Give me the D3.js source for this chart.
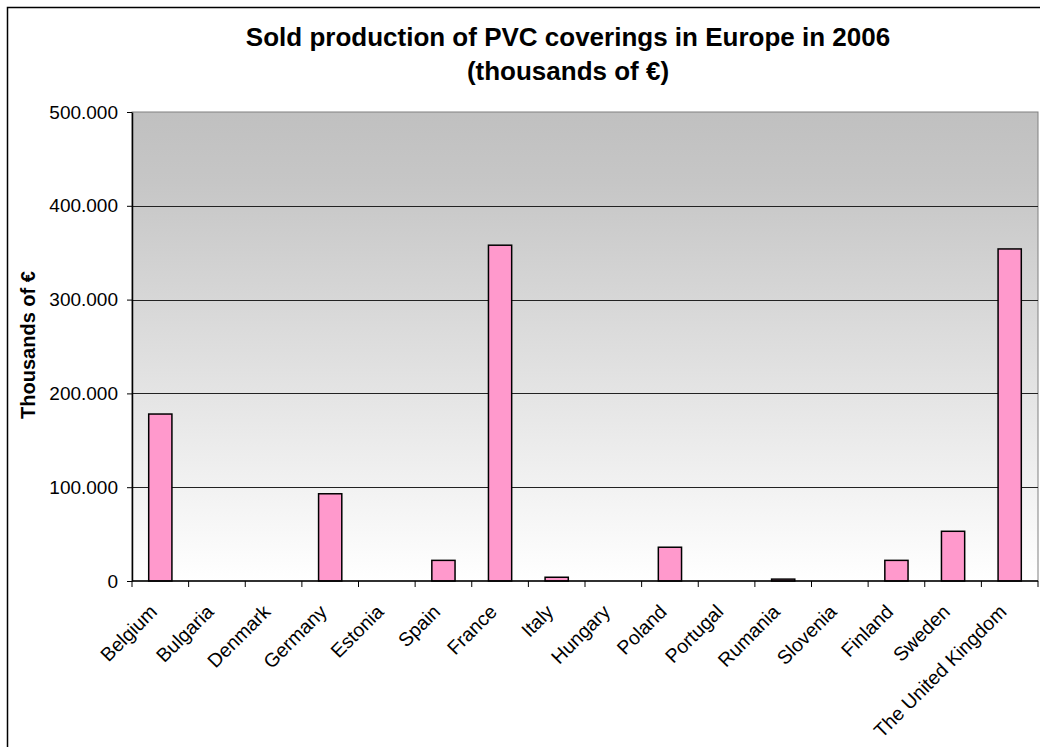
<!DOCTYPE html>
<html><head><meta charset="utf-8">
<script src="https://cdn.jsdelivr.net/npm/d3@7"></script>
<style>body{margin:0;background:#fff}svg{display:block}text{font-family:"Liberation Sans",Arial,sans-serif}</style>
</head><body>
<svg id="c" width="1040" height="747"></svg>
<script>
const categories = ["Belgium","Bulgaria","Denmark","Germany","Estonia","Spain","France","Italy","Hungary","Poland","Portugal","Rumania","Slovenia","Finland","Sweden","The United Kingdom"];
const values = [178000, 0, 0, 93000, 0, 22000, 358000, 4000, 0, 36000, 0, 2000, 0, 22000, 53000, 354000];
const yTicks = [0, 100000, 200000, 300000, 400000, 500000];
const yTickLabels = ["0","100.000","200.000","300.000","400.000","500.000"];
const titleLines = ["Sold production of PVC coverings in Europe in 2006", "(thousands of €)"];
const yTitle = "Thousands of €";

const svg = d3.select("#c");
const L = 132, R = 1038, T = 112, B = 581;

// outer chart border
svg.append("rect").attr("x", 7.5).attr("y", 7.5).attr("width", 1040).attr("height", 750)
  .attr("fill", "#fff").attr("stroke", "#000").attr("stroke-width", 1.5);

const defs = svg.append("defs");
const g = defs.append("linearGradient").attr("id", "bg").attr("x1", 0).attr("y1", 0).attr("x2", 0).attr("y2", 1);
g.append("stop").attr("offset", "0").attr("stop-color", "#c0c0c0");
g.append("stop").attr("offset", "0.15").attr("stop-color", "#c6c6c6");
g.append("stop").attr("offset", "1").attr("stop-color", "#ffffff");

const x = d3.scaleBand().domain(categories).range([L, R]).paddingInner(0.59).paddingOuter(0.295);
const y = d3.scaleLinear().domain([0, 500000]).range([B, T]);

svg.append("rect").attr("x", L).attr("y", T).attr("width", R - L).attr("height", B - T)
  .attr("fill", "url(#bg)").attr("stroke", "#808080").attr("stroke-width", 1);

// gridlines
svg.append("g").selectAll("line").data(yTicks.filter(d => d > 0 && d < 500000)).join("line")
  .attr("x1", L).attr("x2", R).attr("y1", d => Math.round(y(d)) + 0.5).attr("y2", d => Math.round(y(d)) + 0.5)
  .attr("stroke", "#222").attr("stroke-width", 1);

// bars
svg.append("g").selectAll("rect").data(values).join("rect")
  .attr("x", (d, i) => x(categories[i]))
  .attr("width", x.bandwidth())
  .attr("y", d => y(d))
  .attr("height", d => B - y(d))
  .attr("fill", "#ff99cc").attr("stroke", "#000").attr("stroke-width", 1.5);

// y axis
const yAxis = d3.axisLeft(y).tickValues(yTicks).tickFormat((d, i) => yTickLabels[i]).tickSize(5).tickSizeOuter(0).tickPadding(9);
const ya = svg.append("g").attr("transform", `translate(${L},0)`).call(yAxis);
ya.select(".domain").attr("stroke", "#000").attr("stroke-width", 1.5);
ya.selectAll(".tick line").attr("stroke", "#000");
ya.selectAll("text").attr("font-size", 19).attr("fill", "#000").style("font-family", "Liberation Sans, Arial");

// x axis
const xa = svg.append("g");
xa.append("line").attr("x1", L).attr("x2", R).attr("y1", B).attr("y2", B).attr("stroke", "#000").attr("stroke-width", 1.5);
xa.selectAll("line.t").data(d3.range(categories.length + 1)).join("line").attr("class", "t")
  .attr("x1", i => (i < categories.length ? x(categories[i]) - x.step() * 0.295 : R))
  .attr("x2", i => (i < categories.length ? x(categories[i]) - x.step() * 0.295 : R))
  .attr("y1", B).attr("y2", B + 6).attr("stroke", "#000");
xa.selectAll("text").data(categories).join("text")
  .attr("transform", d => `translate(${x(d) + x.bandwidth() / 2 - 2},${B + 32}) rotate(-45)`)
  .attr("text-anchor", "end").attr("font-size", 19.5).attr("fill", "#000").text(d => d);

// titles
const t = svg.append("text").attr("text-anchor", "middle").attr("font-weight", "bold").attr("font-size", 26).attr("fill", "#000");
t.selectAll("tspan").data(titleLines).join("tspan").attr("x", 568).attr("y", (d, i) => 46 + i * 34).text(d => d);

svg.append("text").attr("transform", `translate(35,345) rotate(-90)`).attr("text-anchor", "middle")
  .attr("font-weight", "bold").attr("font-size", 20).attr("fill", "#000").text(yTitle);
</script>
</body></html>
